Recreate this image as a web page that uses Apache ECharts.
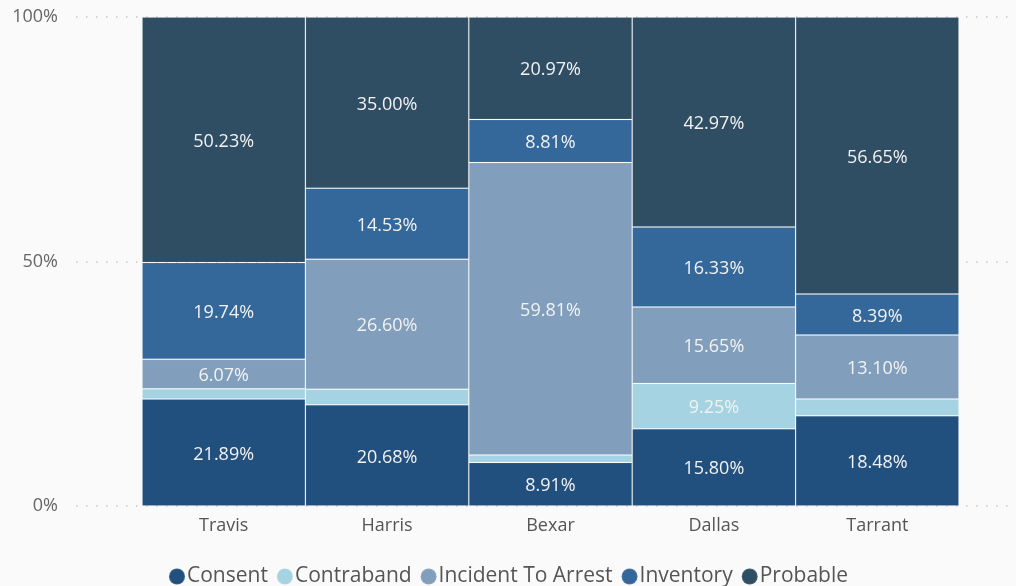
<!DOCTYPE html>
<html>
<head>
<meta charset="utf-8">
<script src="https://cdn.jsdelivr.net/npm/echarts@6/dist/echarts.min.js"></script>
<style>
  html, body { margin: 0; padding: 0; background: #fafafa; }
  #chart { width: 1016px; height: 586px; }
</style>
</head>
<body>
<div id="chart"></div>
<script>
const counties = ['Travis', 'Harris', 'Bexar', 'Dallas', 'Tarrant'];
const consent = [21.89, 20.68, 8.91, 15.80, 18.48];
const contraband = [2.07, 3.19, 1.50, 9.25, 3.38];
const incidentToArrest = [6.07, 26.60, 59.81, 15.65, 13.10];
const inventory = [19.74, 14.53, 8.81, 16.33, 8.39];
const probable = [50.23, 35.00, 20.97, 42.97, 56.65];
const yTicks = [0, 50, 100];

const chart = echarts.init(document.getElementById('chart'));

const labelStyle = {
  show: true,
  position: 'inside',
  color: '#f2f2f2',
  fontSize: 18,
  fontFamily: 'Open Sans',
  offset: [0, 2],
  formatter: p => (p.value < 5 ? '' : p.value.toFixed(2) + '%')
};

const makeSeries = (name, data, color) => ({
  name: name,
  type: 'bar',
  stack: 'total',
  xAxisIndex: 1,
  yAxisIndex: 1,
  barCategoryGap: 0,
  barGap: 0,
  data: data,
  itemStyle: { color: color, borderColor: 'rgba(255,255,255,0.1)', borderWidth: 1 },
  label: labelStyle,
  emphasis: { disabled: true }
});

chart.setOption({
  backgroundColor: '#fafafa',
  animation: false,
  grid: [
    { left: 76, right: 4, top: 17, bottom: 80 },
    { left: 142, right: 57, top: 17, bottom: 80 }
  ],
  legend: {
    top: 561,
    left: 'center',
    icon: 'circle',
    itemWidth: 16,
    itemHeight: 16,
    itemGap: 8,
    textStyle: { color: '#555', fontSize: 21, fontFamily: 'Open Sans', padding: [0, 0, 0, -3] },
    data: ['Consent', 'Contraband', 'Incident To Arrest', 'Inventory', 'Probable']
  },
  xAxis: [
    { type: 'value', gridIndex: 0, show: false, min: 0, max: 1 },
    {
      type: 'category',
      gridIndex: 1,
      data: counties,
      axisLine: { show: false },
      axisTick: { show: false },
      axisLabel: { color: '#555', fontSize: 18, fontFamily: 'Open Sans', margin: 11 }
    }
  ],
  yAxis: [
    {
      type: 'value',
      gridIndex: 0,
      min: yTicks[0],
      max: yTicks[yTicks.length - 1],
      interval: 50,
      axisLine: { show: false },
      axisTick: { show: false },
      axisLabel: { color: '#666', fontSize: 18, fontFamily: 'Open Sans', margin: 18, formatter: '{value}%' },
      splitLine: { lineStyle: { color: '#c8c8c8', width: 1.5, type: [1.5, 8.5] } }
    },
    { type: 'value', gridIndex: 1, min: 0, max: 100, show: false }
  ],
  series: [
    makeSeries('Consent', consent, '#214f7e'),
    makeSeries('Contraband', contraband, '#a5d3e2'),
    makeSeries('Incident To Arrest', incidentToArrest, '#819fbc'),
    makeSeries('Inventory', inventory, '#34689a'),
    makeSeries('Probable', probable, '#2f4d63')
  ]
});
</script>
</body>
</html>
